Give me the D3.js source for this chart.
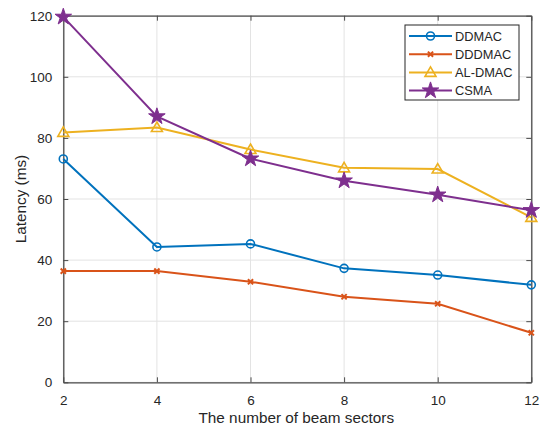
<!DOCTYPE html>
<html><head><meta charset="utf-8">
<script src="https://cdn.jsdelivr.net/npm/d3@7"></script>
<style>body{margin:0;background:#fff}svg{display:block}text{font-family:"Liberation Sans",Arial,sans-serif;fill:#262626}</style>
</head><body><svg id="c" width="543" height="427"></svg>
<script>
const sectors = [2, 4, 6, 8, 10, 12];
const ddmac  = [73.1, 44.3, 45.3, 37.3, 35.1, 31.9];
const dddmac = [36.4, 36.4, 32.9, 28.0, 25.7, 16.2];
const aldmac = [81.8, 83.4, 76.2, 70.2, 69.8, 54.0];
const csma   = [119.6, 87.0, 73.2, 66.0, 61.4, 56.3];
const seriesNames = ["DDMAC", "DDDMAC", "AL-DMAC", "CSMA"];
const seriesColors = ["#0072BD", "#D95319", "#EDB120", "#7E2F8E"];
const seriesMarkers = ["circle", "cross", "triangle", "star"];
const xTicks = [2, 4, 6, 8, 10, 12];
const yTicks = [0, 20, 40, 60, 80, 100, 120];

const series = [ddmac, dddmac, aldmac, csma];
const svg = d3.select("#c");
const L = 63.3, R = 531.3, T = 15.7, B = 382.3;
const x = d3.scaleLinear().domain([2, 12]).range([L, R]);
const y = d3.scaleLinear().domain([0, 120]).range([B, T]);

// grid
const g = svg.append("g");
g.selectAll("line.gx").data(xTicks).join("line")
  .attr("x1", d => x(d)).attr("x2", d => x(d)).attr("y1", T).attr("y2", B)
  .attr("stroke", "#e3e3e3").attr("stroke-width", 1);
g.selectAll("line.gy").data(yTicks).join("line")
  .attr("y1", d => y(d)).attr("y2", d => y(d)).attr("x1", L).attr("x2", R)
  .attr("stroke", "#e3e3e3").attr("stroke-width", 1);

// axes
const axB = d3.axisBottom(x).tickValues(xTicks).tickSizeInner(-5).tickSizeOuter(0).tickPadding(13);
const axL = d3.axisLeft(y).tickValues(yTicks).tickSizeInner(-5).tickSizeOuter(0).tickPadding(11);
const axT = d3.axisTop(x).tickValues(xTicks).tickSizeInner(-5).tickSizeOuter(0).tickFormat("");
const axR = d3.axisRight(y).tickValues(yTicks).tickSizeInner(-5).tickSizeOuter(0).tickFormat("");
function style(sel) {
  sel.selectAll("path.domain").attr("stroke", "#4a4a4a").attr("stroke-width", 1.3);
  sel.selectAll(".tick line").attr("stroke", "#4a4a4a").attr("stroke-width", 1);
  sel.selectAll(".tick text").style("font-size", "13.5px").style("font-family", "'Liberation Sans',Arial,sans-serif").attr("fill", "#262626");
}
svg.append("g").attr("transform", `translate(0,${B})`).call(axB).call(style);
svg.append("g").attr("transform", `translate(${L},0)`).call(axL).call(style);
svg.append("g").attr("transform", `translate(0,${T})`).call(axT).call(style);
svg.append("g").attr("transform", `translate(${R},0)`).call(axR).call(style);

// axis labels
svg.append("text").attr("x", (L + R) / 2 - 1).attr("y", 423).attr("text-anchor", "middle")
  .style("font-size", "15.3px").text("The number of beam sectors");
svg.append("text").attr("transform", `translate(26,${(T + B) / 2}) rotate(-90)`).attr("text-anchor", "middle")
  .style("font-size", "15.3px").text("Latency (ms)");

// marker drawing
function drawMarker(sel, type, color) {
  if (type === "circle") {
    sel.append("circle").attr("r", 4).attr("fill", "none").attr("stroke", color).attr("stroke-width", 1.6);
  } else if (type === "cross") {
    sel.append("path").attr("d", "M-2.6,-2.6L2.6,2.6M-2.6,2.6L2.6,-2.6").attr("stroke", color).attr("stroke-width", 2);
  } else if (type === "triangle") {
    sel.append("path").attr("d", "M0,-5.5L5.5,4L-5.5,4Z").attr("fill", "none").attr("stroke", color).attr("stroke-width", 1.6);
  } else if (type === "star") {
    sel.append("path").attr("d", d3.symbol().type(d3.symbolStar).size(85)()).attr("fill", color).attr("stroke", color).attr("stroke-width", 1);
  }
}

const line = d3.line().x((d, i) => x(sectors[i])).y(d => y(d));
series.forEach((vals, si) => {
  const c = seriesColors[si];
  svg.append("path").datum(vals).attr("d", line).attr("fill", "none")
    .attr("stroke", c).attr("stroke-width", 2);
  vals.forEach((v, i) => {
    const m = svg.append("g").attr("transform", `translate(${x(sectors[i])},${y(v)})`);
    drawMarker(m, seriesMarkers[si], c);
  });
});

// legend
const lg = svg.append("g");
lg.append("rect").attr("x", 405).attr("y", 25).attr("width", 114).attr("height", 75)
  .attr("fill", "#fff").attr("stroke", "#262626").attr("stroke-width", 1);
seriesNames.forEach((n, i) => {
  const yy = 36 + i * 18.2;
  const c = seriesColors[i];
  lg.append("line").attr("x1", 409).attr("x2", 452).attr("y1", yy).attr("y2", yy).attr("stroke", c).attr("stroke-width", 2);
  const m = lg.append("g").attr("transform", `translate(430.5,${yy})`);
  drawMarker(m, seriesMarkers[i], c);
  lg.append("text").attr("x", 455).attr("y", yy + 4.5).style("font-size", "12.8px").text(n);
});
</script></body></html>
